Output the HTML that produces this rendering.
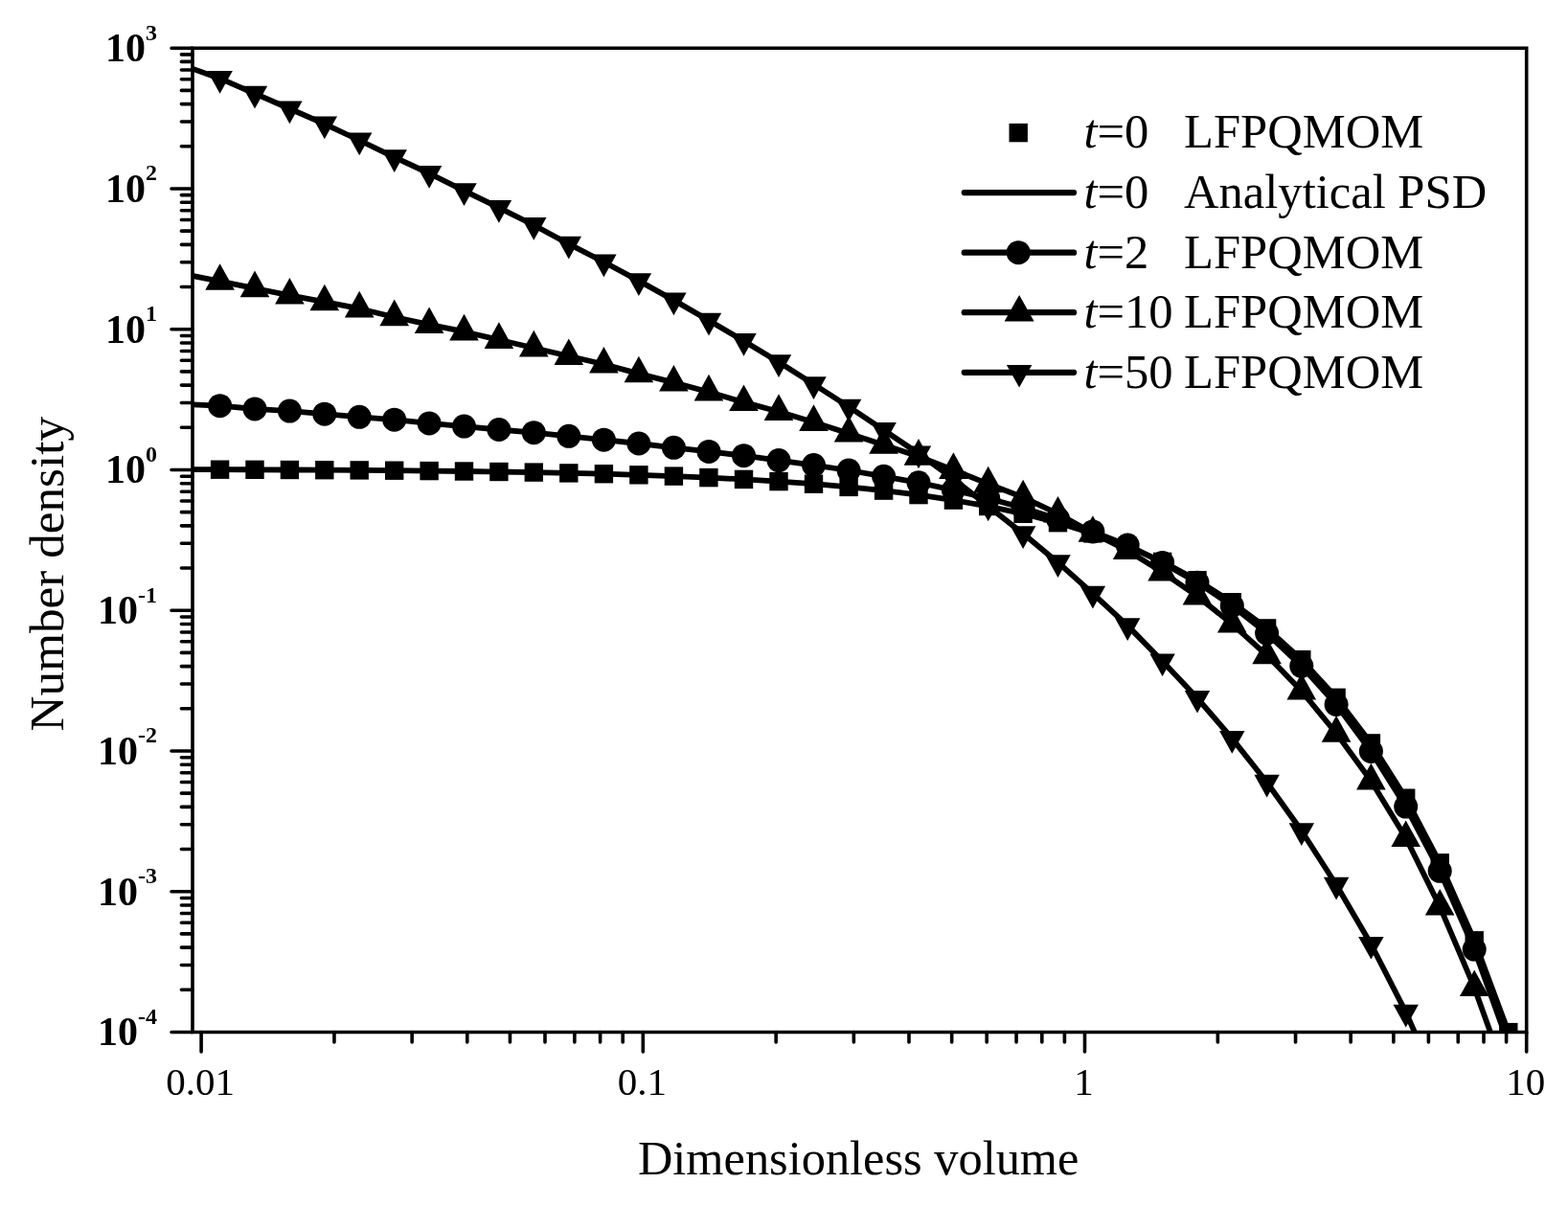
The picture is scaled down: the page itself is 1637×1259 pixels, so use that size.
<!DOCTYPE html>
<html lang="en"><head><meta charset="utf-8"><title>Number density vs dimensionless volume</title>
<style>html,body{margin:0;padding:0;background:#fff}body{width:1637px;height:1259px;overflow:hidden}svg{display:block}</style>
</head><body>
<svg width="1637" height="1259" viewBox="0 0 1637 1259">
<rect width="1637" height="1259" fill="#fff"/>
<defs><clipPath id="plot"><rect x="201.0" y="50.2" width="1392.7" height="1027.3"/></clipPath></defs>
<g clip-path="url(#plot)" fill="#000" stroke="none">
<polyline points="193.1,490.1 229.6,490.2 266.0,490.3 302.4,490.5 338.8,490.7 375.2,490.9 411.7,491.2 448.1,491.6 484.5,492.0 520.9,492.5 557.3,493.1 593.8,493.9 630.4,494.7 666.9,495.8 703.4,497.1 740.0,498.6 776.5,500.4 813.0,502.6 849.5,505.2 886.1,508.4 922.6,512.1 959.0,516.6 995.4,522.1 1031.7,528.5 1068.1,536.3 1104.5,545.7 1140.9,556.9 1177.2,570.3 1213.6,586.4 1250.0,605.7 1286.3,628.7 1322.6,655.9 1358.8,688.6 1395.1,728.3 1431.4,775.9 1467.7,833.2 1503.2,900.8 1539.2,981.8 1574.8,1077.6 1610.4,1191.9" fill="none" stroke="#000" stroke-width="5.8" stroke-linejoin="round"/>
<polyline points="193.1,421.9 229.6,423.7 266.0,426.9 302.4,429.1 338.8,432.2 375.2,435.3 411.7,438.2 448.1,441.9 484.5,445.1 520.9,448.5 557.3,451.7 593.8,455.3 630.4,459.2 666.9,463.0 703.4,467.3 740.0,471.4 776.5,475.7 813.0,480.6 849.5,485.6 886.1,491.0 922.6,497.3 959.0,503.8 995.4,511.6 1031.7,520.3 1068.1,530.3 1104.5,541.7 1140.9,554.9 1177.2,569.1 1213.6,587.4 1250.0,608.2 1286.3,632.4 1322.6,661.1 1358.8,695.3 1395.1,735.5 1431.4,784.4 1467.7,842.1 1503.2,909.3 1539.2,991.1 1574.8,1089.7 1610.4,1205.1" fill="none" stroke="#000" stroke-width="5.8" stroke-linejoin="round"/>
<polyline points="193.1,286.5 229.6,293.6 266.0,301.0 302.4,308.3 338.8,315.1 375.2,322.2 411.7,331.0 448.1,338.8 484.5,346.2 520.9,354.7 557.3,363.2 593.8,371.8 630.4,380.3 666.9,390.1 703.4,399.4 740.0,409.2 776.5,419.9 813.0,429.7 849.5,440.7 886.1,452.4 922.6,464.5 959.0,476.5 995.4,490.7 1031.7,505.1 1068.1,519.2 1104.5,536.3 1140.9,556.6 1177.2,574.7 1213.6,597.4 1250.0,622.4 1286.3,651.4 1322.6,684.1 1358.8,721.3 1395.1,765.5 1431.4,815.2 1467.7,874.8 1503.2,946.4 1539.2,1030.9 1574.8,1130.2 1610.4,1244.4" fill="none" stroke="#000" stroke-width="5.8" stroke-linejoin="round"/>
<polyline points="193.1,69.0 229.6,81.9 266.0,97.7 302.4,113.5 338.8,129.4 375.2,146.5 411.7,164.1 448.1,181.0 484.5,199.1 520.9,216.9 557.3,235.0 593.8,254.7 630.4,273.5 666.9,293.1 703.4,313.4 740.0,334.6 776.5,355.9 813.0,378.1 849.5,401.1 886.1,424.6 922.6,449.0 959.0,473.5 995.4,500.0 1031.7,528.5 1068.1,557.1 1104.5,587.2 1140.9,619.7 1177.2,653.1 1213.6,690.3 1250.0,728.8 1286.3,770.9 1322.6,816.7 1358.8,867.2 1395.1,923.7 1431.4,985.8 1467.7,1056.6 1503.2,1137.4 1539.2,1228.2" fill="none" stroke="#000" stroke-width="5.8" stroke-linejoin="round"/>
<rect x="219.9" y="480.5" width="19.4" height="19.4"/>
<rect x="256.3" y="480.6" width="19.4" height="19.4"/>
<rect x="292.7" y="480.8" width="19.4" height="19.4"/>
<rect x="329.1" y="481.0" width="19.4" height="19.4"/>
<rect x="365.5" y="481.2" width="19.4" height="19.4"/>
<rect x="402.0" y="481.5" width="19.4" height="19.4"/>
<rect x="438.4" y="481.9" width="19.4" height="19.4"/>
<rect x="474.8" y="482.3" width="19.4" height="19.4"/>
<rect x="511.2" y="482.8" width="19.4" height="19.4"/>
<rect x="547.6" y="483.4" width="19.4" height="19.4"/>
<rect x="584.1" y="484.2" width="19.4" height="19.4"/>
<rect x="620.7" y="485.0" width="19.4" height="19.4"/>
<rect x="657.2" y="486.1" width="19.4" height="19.4"/>
<rect x="693.7" y="487.4" width="19.4" height="19.4"/>
<rect x="730.2" y="488.9" width="19.4" height="19.4"/>
<rect x="766.8" y="490.7" width="19.4" height="19.4"/>
<rect x="803.3" y="492.9" width="19.4" height="19.4"/>
<rect x="839.8" y="495.5" width="19.4" height="19.4"/>
<rect x="876.4" y="498.7" width="19.4" height="19.4"/>
<rect x="912.9" y="502.4" width="19.4" height="19.4"/>
<rect x="949.3" y="506.9" width="19.4" height="19.4"/>
<rect x="985.7" y="512.4" width="19.4" height="19.4"/>
<rect x="1022.0" y="518.8" width="19.4" height="19.4"/>
<rect x="1058.4" y="526.6" width="19.4" height="19.4"/>
<rect x="1094.8" y="536.0" width="19.4" height="19.4"/>
<rect x="1131.2" y="547.2" width="19.4" height="19.4"/>
<rect x="1167.5" y="560.6" width="19.4" height="19.4"/>
<rect x="1203.9" y="576.7" width="19.4" height="19.4"/>
<rect x="1240.3" y="596.0" width="19.4" height="19.4"/>
<rect x="1276.6" y="619.0" width="19.4" height="19.4"/>
<rect x="1312.9" y="646.2" width="19.4" height="19.4"/>
<rect x="1349.1" y="678.9" width="19.4" height="19.4"/>
<rect x="1385.4" y="718.6" width="19.4" height="19.4"/>
<rect x="1421.7" y="766.2" width="19.4" height="19.4"/>
<rect x="1458.0" y="823.5" width="19.4" height="19.4"/>
<rect x="1493.5" y="891.1" width="19.4" height="19.4"/>
<rect x="1529.5" y="972.1" width="19.4" height="19.4"/>
<rect x="1565.1" y="1067.9" width="19.4" height="19.4"/>
<circle cx="229.6" cy="423.7" r="12.5"/>
<circle cx="266.0" cy="426.9" r="12.5"/>
<circle cx="302.4" cy="429.1" r="12.5"/>
<circle cx="338.8" cy="432.2" r="12.5"/>
<circle cx="375.2" cy="435.3" r="12.5"/>
<circle cx="411.7" cy="438.2" r="12.5"/>
<circle cx="448.1" cy="441.9" r="12.5"/>
<circle cx="484.5" cy="445.1" r="12.5"/>
<circle cx="520.9" cy="448.5" r="12.5"/>
<circle cx="557.3" cy="451.7" r="12.5"/>
<circle cx="593.8" cy="455.3" r="12.5"/>
<circle cx="630.4" cy="459.2" r="12.5"/>
<circle cx="666.9" cy="463.0" r="12.5"/>
<circle cx="703.4" cy="467.3" r="12.5"/>
<circle cx="740.0" cy="471.4" r="12.5"/>
<circle cx="776.5" cy="475.7" r="12.5"/>
<circle cx="813.0" cy="480.6" r="12.5"/>
<circle cx="849.5" cy="485.6" r="12.5"/>
<circle cx="886.1" cy="491.0" r="12.5"/>
<circle cx="922.6" cy="497.3" r="12.5"/>
<circle cx="959.0" cy="503.8" r="12.5"/>
<circle cx="995.4" cy="511.6" r="12.5"/>
<circle cx="1031.7" cy="520.3" r="12.5"/>
<circle cx="1068.1" cy="530.3" r="12.5"/>
<circle cx="1104.5" cy="541.7" r="12.5"/>
<circle cx="1140.9" cy="554.9" r="12.5"/>
<circle cx="1177.2" cy="569.1" r="12.5"/>
<circle cx="1213.6" cy="587.4" r="12.5"/>
<circle cx="1250.0" cy="608.2" r="12.5"/>
<circle cx="1286.3" cy="632.4" r="12.5"/>
<circle cx="1322.6" cy="661.1" r="12.5"/>
<circle cx="1358.8" cy="695.3" r="12.5"/>
<circle cx="1395.1" cy="735.5" r="12.5"/>
<circle cx="1431.4" cy="784.4" r="12.5"/>
<circle cx="1467.7" cy="842.1" r="12.5"/>
<circle cx="1503.2" cy="909.3" r="12.5"/>
<circle cx="1539.2" cy="991.1" r="12.5"/>
<polygon points="229.6,275.2 244.9,302.8 214.3,302.8"/>
<polygon points="266.0,282.6 281.3,310.2 250.7,310.2"/>
<polygon points="302.4,289.9 317.7,317.5 287.1,317.5"/>
<polygon points="338.8,296.7 354.1,324.3 323.5,324.3"/>
<polygon points="375.2,303.8 390.5,331.4 359.9,331.4"/>
<polygon points="411.7,312.6 427.0,340.2 396.4,340.2"/>
<polygon points="448.1,320.4 463.4,348.0 432.8,348.0"/>
<polygon points="484.5,327.8 499.8,355.4 469.2,355.4"/>
<polygon points="520.9,336.3 536.2,363.9 505.6,363.9"/>
<polygon points="557.3,344.8 572.6,372.4 542.0,372.4"/>
<polygon points="593.8,353.4 609.1,381.0 578.5,381.0"/>
<polygon points="630.4,361.9 645.7,389.5 615.1,389.5"/>
<polygon points="666.9,371.7 682.2,399.3 651.6,399.3"/>
<polygon points="703.4,381.0 718.7,408.6 688.1,408.6"/>
<polygon points="740.0,390.8 755.2,418.4 724.7,418.4"/>
<polygon points="776.5,401.5 791.8,429.1 761.2,429.1"/>
<polygon points="813.0,411.3 828.3,438.9 797.7,438.9"/>
<polygon points="849.5,422.3 864.8,449.9 834.2,449.9"/>
<polygon points="886.1,434.0 901.4,461.6 870.8,461.6"/>
<polygon points="922.6,446.1 937.9,473.7 907.3,473.7"/>
<polygon points="959.0,458.1 974.3,485.7 943.7,485.7"/>
<polygon points="995.4,472.3 1010.7,499.9 980.1,499.9"/>
<polygon points="1031.7,486.7 1047.0,514.3 1016.4,514.3"/>
<polygon points="1068.1,500.8 1083.4,528.4 1052.8,528.4"/>
<polygon points="1104.5,517.9 1119.8,545.5 1089.2,545.5"/>
<polygon points="1140.9,538.2 1156.2,565.8 1125.6,565.8"/>
<polygon points="1177.2,556.3 1192.5,583.9 1161.9,583.9"/>
<polygon points="1213.6,579.0 1228.9,606.6 1198.3,606.6"/>
<polygon points="1250.0,604.0 1265.3,631.6 1234.7,631.6"/>
<polygon points="1286.3,633.0 1301.6,660.6 1271.0,660.6"/>
<polygon points="1322.6,665.7 1337.9,693.3 1307.3,693.3"/>
<polygon points="1358.8,702.9 1374.1,730.5 1343.5,730.5"/>
<polygon points="1395.1,747.1 1410.4,774.7 1379.8,774.7"/>
<polygon points="1431.4,796.8 1446.7,824.4 1416.1,824.4"/>
<polygon points="1467.7,856.4 1483.0,884.0 1452.4,884.0"/>
<polygon points="1503.2,928.0 1518.5,955.6 1487.9,955.6"/>
<polygon points="1539.2,1012.5 1554.5,1040.1 1523.9,1040.1"/>
<polygon points="229.6,97.7 242.8,74.0 216.4,74.0"/>
<polygon points="266.0,113.5 279.2,89.8 252.8,89.8"/>
<polygon points="302.4,129.3 315.6,105.6 289.2,105.6"/>
<polygon points="338.8,145.2 352.0,121.5 325.6,121.5"/>
<polygon points="375.2,162.3 388.4,138.6 362.0,138.6"/>
<polygon points="411.7,179.9 424.9,156.2 398.5,156.2"/>
<polygon points="448.1,196.8 461.3,173.1 434.9,173.1"/>
<polygon points="484.5,214.9 497.7,191.2 471.3,191.2"/>
<polygon points="520.9,232.7 534.1,209.0 507.7,209.0"/>
<polygon points="557.3,250.8 570.5,227.1 544.1,227.1"/>
<polygon points="593.8,270.5 607.0,246.8 580.6,246.8"/>
<polygon points="630.4,289.3 643.6,265.6 617.2,265.6"/>
<polygon points="666.9,308.9 680.1,285.2 653.7,285.2"/>
<polygon points="703.4,329.2 716.6,305.5 690.2,305.5"/>
<polygon points="740.0,350.4 753.2,326.7 726.8,326.7"/>
<polygon points="776.5,371.7 789.7,348.0 763.3,348.0"/>
<polygon points="813.0,393.9 826.2,370.2 799.8,370.2"/>
<polygon points="849.5,416.9 862.7,393.2 836.3,393.2"/>
<polygon points="886.1,440.4 899.3,416.7 872.9,416.7"/>
<polygon points="922.6,464.8 935.8,441.1 909.4,441.1"/>
<polygon points="959.0,489.3 972.2,465.6 945.8,465.6"/>
<polygon points="995.4,515.8 1008.6,492.1 982.2,492.1"/>
<polygon points="1031.7,544.3 1044.9,520.6 1018.5,520.6"/>
<polygon points="1068.1,572.9 1081.3,549.2 1054.9,549.2"/>
<polygon points="1104.5,603.0 1117.7,579.3 1091.3,579.3"/>
<polygon points="1140.9,635.5 1154.1,611.8 1127.7,611.8"/>
<polygon points="1177.2,668.9 1190.4,645.2 1164.0,645.2"/>
<polygon points="1213.6,706.1 1226.8,682.4 1200.4,682.4"/>
<polygon points="1250.0,744.6 1263.2,720.9 1236.8,720.9"/>
<polygon points="1286.3,786.7 1299.5,763.0 1273.1,763.0"/>
<polygon points="1322.6,832.5 1335.8,808.8 1309.4,808.8"/>
<polygon points="1358.8,883.0 1372.0,859.3 1345.6,859.3"/>
<polygon points="1395.1,939.5 1408.3,915.8 1381.9,915.8"/>
<polygon points="1431.4,1001.6 1444.6,977.9 1418.2,977.9"/>
<polygon points="1467.7,1072.4 1480.9,1048.7 1454.5,1048.7"/>
</g>
<g stroke="#000" stroke-width="3.6" fill="none" stroke-linecap="round">
<path d="M201.0,50.2 H1593.7 V1077.5 H201.0 Z" stroke-linejoin="miter" stroke-linecap="butt"/>
<path d="M201.0,50.20 h-22.0 M201.0,152.78 h-11.6 M201.0,126.94 h-11.6 M201.0,108.60 h-11.6 M201.0,94.38 h-11.6 M201.0,82.76 h-11.6 M201.0,72.93 h-11.6 M201.0,64.42 h-11.6 M201.0,56.92 h-11.6 M201.0,196.96 h-22.0 M201.0,299.54 h-11.6 M201.0,273.69 h-11.6 M201.0,255.36 h-11.6 M201.0,241.14 h-11.6 M201.0,229.52 h-11.6 M201.0,219.69 h-11.6 M201.0,211.18 h-11.6 M201.0,203.67 h-11.6 M201.0,343.71 h-22.0 M201.0,446.29 h-11.6 M201.0,420.45 h-11.6 M201.0,402.11 h-11.6 M201.0,387.89 h-11.6 M201.0,376.27 h-11.6 M201.0,366.45 h-11.6 M201.0,357.94 h-11.6 M201.0,350.43 h-11.6 M201.0,490.47 h-22.0 M201.0,593.05 h-11.6 M201.0,567.21 h-11.6 M201.0,548.87 h-11.6 M201.0,534.65 h-11.6 M201.0,523.03 h-11.6 M201.0,513.20 h-11.6 M201.0,504.69 h-11.6 M201.0,497.19 h-11.6 M201.0,637.23 h-22.0 M201.0,739.81 h-11.6 M201.0,713.96 h-11.6 M201.0,695.63 h-11.6 M201.0,681.41 h-11.6 M201.0,669.79 h-11.6 M201.0,659.96 h-11.6 M201.0,651.45 h-11.6 M201.0,643.94 h-11.6 M201.0,783.99 h-22.0 M201.0,886.56 h-11.6 M201.0,860.72 h-11.6 M201.0,842.39 h-11.6 M201.0,828.16 h-11.6 M201.0,816.54 h-11.6 M201.0,806.72 h-11.6 M201.0,798.21 h-11.6 M201.0,790.70 h-11.6 M201.0,930.74 h-22.0 M201.0,1033.32 h-11.6 M201.0,1007.48 h-11.6 M201.0,989.14 h-11.6 M201.0,974.92 h-11.6 M201.0,963.30 h-11.6 M201.0,953.48 h-11.6 M201.0,944.97 h-11.6 M201.0,937.46 h-11.6 M201.0,1077.50 h-22.0 M210.10,1077.5 v20.4 M348.94,1077.5 v10.4 M430.15,1077.5 v10.4 M487.77,1077.5 v10.4 M532.46,1077.5 v10.4 M568.98,1077.5 v10.4 M599.86,1077.5 v10.4 M626.61,1077.5 v10.4 M650.20,1077.5 v10.4 M671.30,1077.5 v20.4 M810.14,1077.5 v10.4 M891.35,1077.5 v10.4 M948.97,1077.5 v10.4 M993.66,1077.5 v10.4 M1030.18,1077.5 v10.4 M1061.06,1077.5 v10.4 M1087.81,1077.5 v10.4 M1111.40,1077.5 v10.4 M1132.50,1077.5 v20.4 M1271.34,1077.5 v10.4 M1352.55,1077.5 v10.4 M1410.17,1077.5 v10.4 M1454.86,1077.5 v10.4 M1491.38,1077.5 v10.4 M1522.26,1077.5 v10.4 M1549.01,1077.5 v10.4 M1572.60,1077.5 v10.4 M1593.70,1077.5 v20.4"/>
</g>
<g font-family="'Liberation Serif', 'Times New Roman', serif" fill="#000">
<g font-weight="bold" font-size="42" text-anchor="end">
<text x="164" y="64.1">10<tspan font-size="24" dy="-22.5">3</tspan></text>
<text x="164" y="210.9">10<tspan font-size="24" dy="-22.5">2</tspan></text>
<text x="164" y="357.6">10<tspan font-size="24" dy="-22.5">1</tspan></text>
<text x="164" y="504.4">10<tspan font-size="24" dy="-22.5">0</tspan></text>
<text x="164" y="651.1">10<tspan font-size="24" dy="-22.5">-1</tspan></text>
<text x="164" y="797.9">10<tspan font-size="24" dy="-22.5">-2</tspan></text>
<text x="164" y="944.6">10<tspan font-size="24" dy="-22.5">-3</tspan></text>
<text x="164" y="1091.4">10<tspan font-size="24" dy="-22.5">-4</tspan></text>
</g>
<g font-size="41" text-anchor="middle">
<text x="209.1" y="1143.2">0.01</text>
<text x="670.3" y="1143.2">0.1</text>
<text x="1131.5" y="1143.2">1</text>
<text x="1592.7" y="1143.2">10</text>
</g>
<text x="896.2" y="1225.6" font-size="50.4" text-anchor="middle">Dimensionless volume</text>
<text transform="translate(65.6,599.2) rotate(-90)" font-size="51.2" text-anchor="middle">Number density</text>
<rect x="1053.5" y="128.9" width="19.4" height="19.4"/>
<text x="1131.4" y="154.4" font-size="50.6"><tspan font-style="italic">t</tspan>=0</text>
<text x="1236" y="154.4" font-size="50.6">LFPQMOM</text>
<line x1="1006.7" y1="201.1" x2="1121.1" y2="201.1" stroke="#000" stroke-width="6.2" stroke-linecap="round"/>
<text x="1131.4" y="216.9" font-size="50.6"><tspan font-style="italic">t</tspan>=0</text>
<text x="1236" y="216.9" font-size="50.6">Analytical PSD</text>
<line x1="1006.7" y1="263.7" x2="1121.1" y2="263.7" stroke="#000" stroke-width="6.2" stroke-linecap="round"/>
<circle cx="1063.2" cy="263.7" r="12.5"/>
<text x="1131.4" y="279.5" font-size="50.6"><tspan font-style="italic">t</tspan>=2</text>
<text x="1236" y="279.5" font-size="50.6">LFPQMOM</text>
<line x1="1006.7" y1="326.2" x2="1121.1" y2="326.2" stroke="#000" stroke-width="6.2" stroke-linecap="round"/>
<polygon points="1064.1,307.9 1079.6,335.4 1048.6,335.4"/>
<text x="1131.4" y="342.1" font-size="50.6"><tspan font-style="italic">t</tspan>=10</text>
<text x="1236" y="342.1" font-size="50.6">LFPQMOM</text>
<line x1="1006.7" y1="388.8" x2="1121.1" y2="388.8" stroke="#000" stroke-width="6.2" stroke-linecap="round"/>
<polygon points="1064.1,404.6 1077.3,380.9 1050.9,380.9"/>
<text x="1131.4" y="404.6" font-size="50.6"><tspan font-style="italic">t</tspan>=50</text>
<text x="1236" y="404.6" font-size="50.6">LFPQMOM</text>
</g>
</svg>
</body></html>
